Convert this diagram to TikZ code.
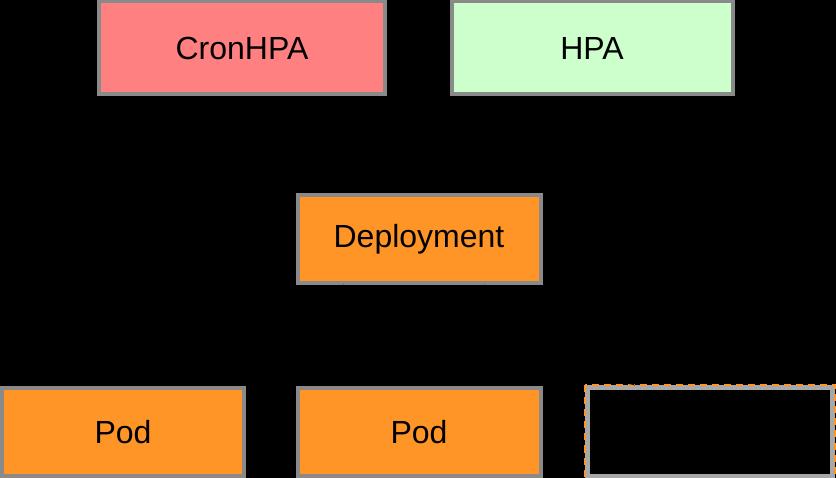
\documentclass[tikz,border=0pt]{standalone}
\usepackage{fontspec}
\setmainfont{Liberation Sans}
\usetikzlibrary{calc}
\definecolor{cronfill}{HTML}{FF8080}
\definecolor{hpafill}{HTML}{CCFFCC}
\definecolor{orangefill}{HTML}{FF9526}
\definecolor{edgegray}{HTML}{8A8A8A}
\definecolor{dashgray}{HTML}{A8A8A8}
\begin{document}
\begin{tikzpicture}[x=1pt,y=-1pt,
  box/.style={draw=edgegray, line width=4pt, minimum width=#1, font=\fontsize{32}{38}\selectfont, text=black, inner sep=0pt},
  conn/.style={draw=black, line width=1pt, -latex}]
\fill[black] (0,0) rectangle (836,478);
\useasboundingbox (0,0) rectangle (836,478);
\node[box=286pt, minimum height=93pt, fill=cronfill] (cron) at (242,48) {CronHPA};
\node[box=281pt, minimum height=93pt, fill=hpafill] (hpa) at (592,48) {HPA};
\node[box=243pt, minimum height=88pt, fill=orangefill] (dep) at (419,239) {Deployment};
\node[box=242pt, minimum height=88pt, fill=orangefill] (pod1) at (123,432) {Pod};
\node[box=243pt, minimum height=88pt, fill=orangefill] (pod2) at (419,432) {Pod};
\node[draw=dashgray, line width=5pt, minimum width=245pt, minimum height=88pt, inner sep=0pt] (pod3) at (710,432) {};
\draw[orangefill, line width=2pt, dash pattern=on 7pt off 5pt] (pod3.north west) rectangle (pod3.south east);
\draw[conn] ($(cron.south)+(48,0)$) -- ($(dep.north)+(-40,0)$);
\draw[conn] ($(hpa.south)+(-47,0)$) -- ($(dep.north)+(40,0)$);
\draw[conn] ($(dep.south)+(-75,0)$) -- ($(pod1.north)+(80,0)$);
\draw[conn] (dep.south) -- (pod2.north);
\draw[conn] ($(dep.south)+(65,0)$) -- ($(pod3.north)+(-75,0)$);
\end{tikzpicture}
\end{document}
